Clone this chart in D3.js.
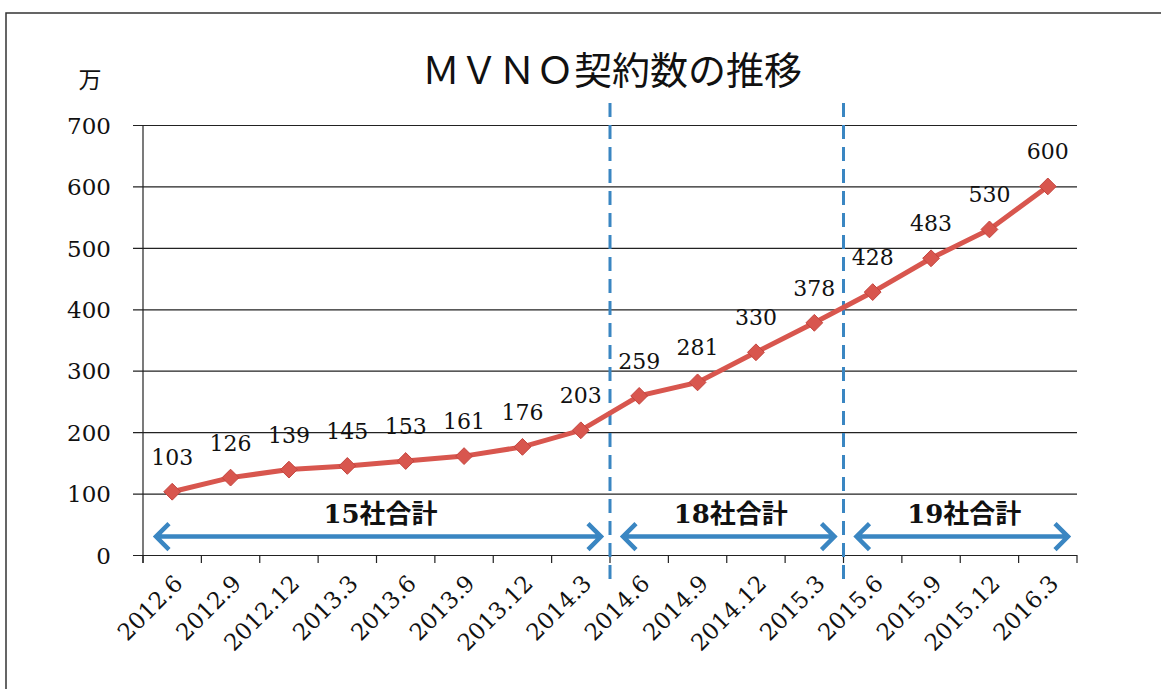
<!DOCTYPE html>
<html>
<head>
<meta charset="utf-8">
<script src="https://cdn.jsdelivr.net/npm/d3@7"></script>
<style>
    body { margin: 0; background: #fff; }
    svg { display: block; }
</style>
</head>
<body>
<script>
// chart data
var categories = ["2012.6", "2012.9", "2012.12", "2013.3", "2013.6", "2013.9", "2013.12", "2014.3",
    "2014.6", "2014.9", "2014.12", "2015.3", "2015.6", "2015.9", "2015.12", "2016.3"];
var contracts = [103, 126, 139, 145, 153, 161, 176, 203, 259, 281, 330, 378, 428, 483, 530, 600];
var yTicks = [0, 100, 200, 300, 400, 500, 600, 700];
var groupLabels = ["15社合計", "18社合計", "19社合計"];
var groupStart = [0, 8, 12];   // category index where each group begins
var groupEnd = [8, 12, 16];
var titleText = "ＭＶＮＯ契約数の推移";
var unitText = "万";

var width = 1161, height = 689;
var margin = {left: 143, right: 84, top: 125, bottom: 134};
var plotW = width - margin.left - margin.right;
var plotH = height - margin.top - margin.bottom;

var serif = "'DejaVu Serif', 'Liberation Serif', 'Noto Sans CJK JP', serif";
var lineRed = "#d8564e";
var blue = "#3a86c2";

var svg = d3.select("body").append("svg")
    .attr("width", width)
    .attr("height", height);

// outer frame (only left and top visible in the picture)
svg.append("rect")
    .attr("x", 6).attr("y", 13)
    .attr("width", width + 20).attr("height", height + 20)
    .style("fill", "none")
    .style("stroke", "#333")
    .style("stroke-width", 1.5);

var g = svg.append("g")
    .attr("transform", "translate(" + margin.left + "," + margin.top + ")");

var x = d3.scaleBand().domain(categories).range([0, plotW]).paddingInner(0).paddingOuter(0);
var y = d3.scaleLinear().domain([0, 700]).range([plotH, 0]);

// horizontal grid lines + y labels
var yAxis = d3.axisLeft(y)
    .tickValues(yTicks)
    .tickSizeInner(-(plotW + 10))
    .tickSizeOuter(0)
    .tickPadding(22);

var ya = g.append("g")
    .attr("transform", "translate(" + (-10) + ",0)")
    .call(yAxis);
ya.select(".domain").remove();
ya.selectAll(".tick line")
    .attr("x1", 0)
    .attr("x2", plotW + 10)
    .style("stroke", "#222")
    .style("stroke-width", 1.2);
ya.selectAll(".tick text")
    .attr("dy", "0.36em")
    .style("font-family", serif)
    .style("font-size", "23px")
    .style("fill", "#111");

// y axis vertical line
g.append("line")
    .attr("x1", 0).attr("x2", 0)
    .attr("y1", 0).attr("y2", plotH + 8)
    .style("stroke", "#222")
    .style("stroke-width", 1.2);

// x tick marks at band boundaries
var boundaries = d3.range(categories.length + 1);
g.selectAll(".xtick")
    .data(boundaries)
    .enter().append("line")
    .attr("class", "xtick")
    .attr("x1", function (d) { return d * x.step(); })
    .attr("x2", function (d) { return d * x.step(); })
    .attr("y1", plotH)
    .attr("y2", plotH + 8)
    .style("stroke", "#222")
    .style("stroke-width", 1.2);

// x labels, rotated
g.selectAll(".xlabel")
    .data(categories)
    .enter().append("text")
    .attr("class", "xlabel")
    .attr("transform", function (d) {
        return "translate(" + (x(d) + x.bandwidth() / 2 + 12) + "," + (plotH + 30) + ") rotate(-45)";
    })
    .attr("text-anchor", "end")
    .style("font-family", serif)
    .style("font-size", "23px")
    .style("fill", "#111")
    .text(function (d) { return d; });

// dashed separators
g.selectAll(".sep")
    .data(groupStart.slice(1))
    .enter().append("line")
    .attr("class", "sep")
    .attr("x1", function (d) { return d * x.step(); })
    .attr("x2", function (d) { return d * x.step(); })
    .attr("y1", plotH + 24)
    .attr("y2", -25)
    .style("stroke", blue)
    .style("stroke-width", 3)
    .style("stroke-dasharray", "14,8");

// group arrows
var arrowY = y(30);
var head = 13;
groupLabels.forEach(function (label, i) {
    var x0 = groupStart[i] * x.step() + 13;
    var x1 = groupEnd[i] * x.step() - 9;
    var ag = g.append("g").attr("class", "group-arrow");
    ag.append("path")
        .attr("d", "M" + x0 + "," + arrowY + "L" + x1 + "," + arrowY +
            "M" + (x0 + head) + "," + (arrowY - head) + "L" + x0 + "," + arrowY + "L" + (x0 + head) + "," + (arrowY + head) +
            "M" + (x1 - head) + "," + (arrowY - head) + "L" + x1 + "," + arrowY + "L" + (x1 - head) + "," + (arrowY + head))
        .style("fill", "none")
        .style("stroke", blue)
        .style("stroke-width", 4.5);
    ag.append("text")
        .attr("x", (groupStart[i] + groupEnd[i]) / 2 * x.step() + 4)
        .attr("y", arrowY - 14)
        .attr("text-anchor", "middle")
        .style("font-family", "'DejaVu Serif', 'Noto Sans CJK JP', serif")
        .style("font-weight", "bold")
        .style("font-size", "26px")
        .style("fill", "#111")
        .text(label);
});

// the line
var line = d3.line()
    .x(function (d, i) { return x(categories[i]) + x.bandwidth() / 2; })
    .y(function (d) { return y(d); });

g.append("path")
    .datum(contracts)
    .attr("d", line)
    .style("fill", "none")
    .style("stroke", lineRed)
    .style("stroke-width", 5);

// diamond markers
var diamond = d3.symbol().type(d3.symbolDiamond2).size(180);
g.selectAll(".marker")
    .data(contracts)
    .enter().append("path")
    .attr("class", "marker")
    .attr("d", diamond)
    .attr("transform", function (d, i) {
        return "translate(" + (x(categories[i]) + x.bandwidth() / 2) + "," + y(d) + ")";
    })
    .style("fill", lineRed)
    .style("stroke", "#c4443e")
    .style("stroke-width", 1);

// data labels
g.selectAll(".vlabel")
    .data(contracts)
    .enter().append("text")
    .attr("class", "vlabel")
    .attr("x", function (d, i) { return x(categories[i]) + x.bandwidth() / 2; })
    .attr("y", function (d) { return y(d) - 27; })
    .attr("text-anchor", "middle")
    .style("font-family", serif)
    .style("font-size", "22px")
    .style("fill", "#111")
    .text(function (d) { return d; });

// title and unit
svg.append("text")
    .attr("x", 612)
    .attr("y", 84)
    .attr("text-anchor", "middle")
    .style("font-family", "'Noto Sans CJK JP', sans-serif")
    .style("font-size", "38px")
    .style("fill", "#111")
    .text(titleText);

svg.append("text")
    .attr("x", 90)
    .attr("y", 88)
    .attr("text-anchor", "middle")
    .style("font-family", "'Noto Sans CJK JP', sans-serif")
    .style("font-size", "23px")
    .style("fill", "#111")
    .text(unitText);
</script>
</body>
</html>
